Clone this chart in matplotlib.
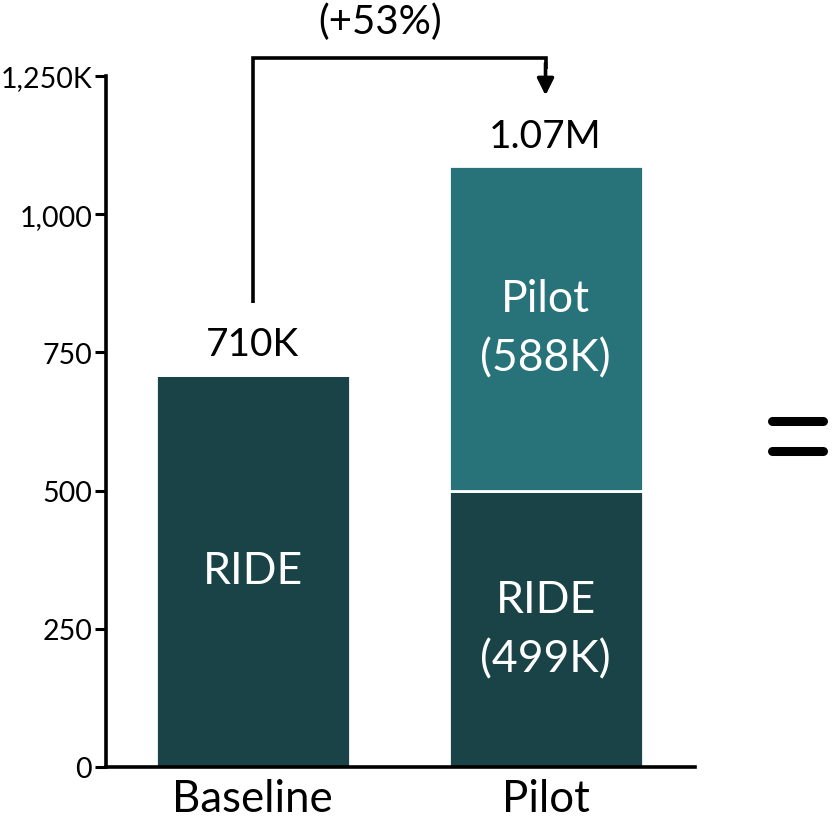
import matplotlib
matplotlib.use("Agg")
import matplotlib.pyplot as plt
from matplotlib.lines import Line2D

plt.rcParams['font.family'] = ['Lato', 'DejaVu Sans']

# Data (thousands)
categories = ['Baseline', 'Pilot']
ride_values = [710, 499]
pilot_values = [0, 588]
total_labels = ['710K', '1.07M']
segment_labels_ride = ['RIDE', 'RIDE\n(499K)']
segment_labels_pilot = ['', 'Pilot\n(588K)']
change_label = '(+53%)'
y_ticks = [0, 250, 500, 750, 1000, 1250]
y_tick_labels = ['0', '250', '500', '750', '1,000', '1,250K']

dark = '#194347'
teal = '#287279'

fig = plt.figure(figsize=(8.36, 8.28), dpi=100)
ax = fig.add_axes([0.1268, 0.0725, 0.8313 - 0.1268, 0.9070 - 0.0725])

x = list(range(len(categories)))
width = 0.662
ax.bar(x, ride_values, width=width, color=dark, edgecolor='white', linewidth=2)
ax.bar(x, pilot_values, width=width, bottom=ride_values, color=teal,
       edgecolor='white', linewidth=2)

ax.set_xlim(-0.5, 1.51)
ax.set_ylim(0, 1250)
ax.set_yticks(y_ticks)
ax.set_yticklabels(y_tick_labels, fontsize=20.5)
ax.set_xticks(x)
ax.set_xticklabels(categories, fontsize=31.5)

for side in ['top', 'right']:
    ax.spines[side].set_visible(False)
for side in ['left', 'bottom']:
    ax.spines[side].set_linewidth(2.6)
ax.tick_params(axis='y', length=8, width=2.2, pad=2, colors='black')
ax.tick_params(axis='x', length=0, pad=8)

totals = [r + p for r, p in zip(ride_values, pilot_values)]

# Value labels above bars
for xi, tot, lab in zip(x, totals, total_labels):
    ax.text(xi, tot + 55, lab, ha='center', va='center', fontsize=28, color='black')

# Labels inside segments
for xi, r, p, lr, lp in zip(x, ride_values, pilot_values,
                            segment_labels_ride, segment_labels_pilot):
    ax.text(xi, r / 2, lr, ha='center', va='center', fontsize=32,
            color='white', linespacing=1.55)
    if p:
        ax.text(xi, r + p / 2, lp, ha='center', va='center', fontsize=32,
                color='white', linespacing=1.55)

# Bracket connector showing growth
bracket_top = 1283
ax.plot([0, 0, 1, 1], [totals[0] + 130, bracket_top, bracket_top, bracket_top - 20],
        color='black', lw=2.6, clip_on=False, solid_capstyle='butt',
        solid_joinstyle='miter')
ax.annotate('', xy=(1, totals[1] + 128), xytext=(1, bracket_top - 10),
            arrowprops=dict(arrowstyle='-|>', color='black', lw=2.6,
                            mutation_scale=25, shrinkA=0, shrinkB=0),
            annotation_clip=False)
ax.text(0.435, 1350, change_label, ha='center', va='center', fontsize=29,
        color='black', clip_on=False)

# Equals sign on the right
for yy in [1 - 422 / 828, 1 - 452 / 828]:
    fig.add_artist(Line2D([772 / 836, 823 / 836], [yy, yy], color='black',
                          lw=6.5, solid_capstyle='round',
                          transform=fig.transFigure))

fig.savefig('out.png', dpi=100)
